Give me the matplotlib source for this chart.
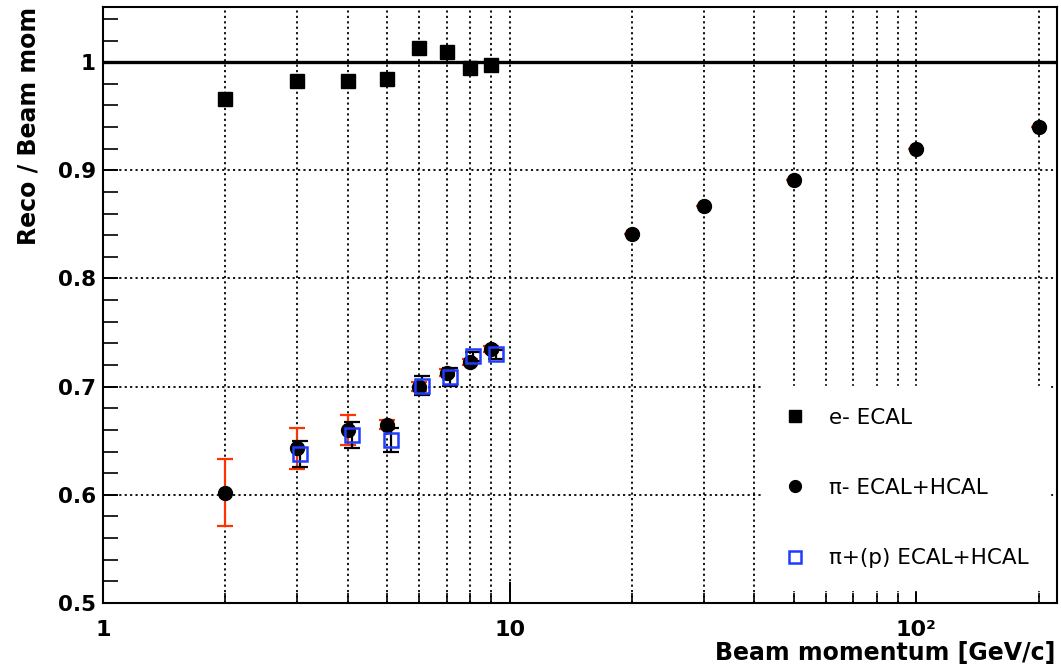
"""
Reco / beam momentum response for e- and pi in ECAL and ECAL+HCAL.
"""

from __future__ import annotations

import matplotlib

matplotlib.use("Agg")
import matplotlib.pyplot as plt
from matplotlib.ticker import FixedLocator, FixedFormatter, LogLocator, MultipleLocator, NullFormatter


# e- ECAL
E_MOM = [2, 3, 4, 5, 6, 7, 8, 9]
E_RESP = [0.966, 0.983, 0.983, 0.984, 1.0135, 1.0095, 0.995, 0.9975]

# pi- ECAL+HCAL
PIM_MOM = [2, 3, 4, 5, 6, 7, 8, 9, 20, 30, 50, 100, 200]
PIM_RESP = [0.602, 0.643, 0.660, 0.665, 0.700, 0.713, 0.723, 0.735, 0.841, 0.867, 0.891, 0.920, 0.940]
PIM_ERR = [0.031, 0.019, 0.014, 0.004, 0.004, 0.003, 0.003, 0.003, 0.0, 0.0, 0.0, 0.0, 0.0]

# pi+(p) ECAL+HCAL
PIP_MOM = [3.06, 4.09, 5.1, 6.1, 7.15, 8.15, 9.25]
PIP_RESP = [0.638, 0.655, 0.651, 0.701, 0.709, 0.728, 0.730]
PIP_ERR = [0.012, 0.012, 0.011, 0.009, 0.008, 0.004, 0.004]

X_TICKS = [1, 10, 100]
X_TICK_LABELS = ["1", "10", "10\u00b2"]

RED = "#ff3300"
BLUE = "#1f3cff"


def main() -> None:
    fig = plt.figure(figsize=(10.61, 6.67), dpi=100)
    ax = fig.add_axes([103 / 1061, 64 / 667, 954 / 1061, 596 / 667])

    ax.set_xscale("log")
    ax.set_xlim(1, 222)
    ax.set_ylim(0.5, 1.051)

    grid_style = dict(color="black", linestyle=(0, (1.2, 1.8)), linewidth=1.3)
    ax.grid(True, axis="x", which="both", **grid_style)
    ax.grid(True, axis="y", which="major", **grid_style)
    ax.set_axisbelow(True)

    ax.axhline(1.0, color="black", linewidth=2.4, zorder=2)

    ax.errorbar(PIM_MOM, PIM_RESP, yerr=PIM_ERR, fmt="none", ecolor=RED,
                elinewidth=1.6, capsize=5.5, capthick=1.6, zorder=3)
    ax.errorbar(PIP_MOM, PIP_RESP, yerr=PIP_ERR, fmt="none", ecolor="black",
                elinewidth=1.6, capsize=5.5, capthick=1.6, zorder=3)

    ax.plot(E_MOM, E_RESP, linestyle="none", marker="s", markersize=10,
            color="black", label="e- ECAL", zorder=4)
    ax.plot(PIM_MOM, PIM_RESP, linestyle="none", marker="o", markersize=10,
            color="black", label="\u03c0- ECAL+HCAL", zorder=4)
    ax.plot(PIP_MOM, PIP_RESP, linestyle="none", marker="s", markersize=9.5,
            markerfacecolor="none", markeredgecolor=BLUE, markeredgewidth=1.8,
            label="\u03c0+(p) ECAL+HCAL", zorder=5)

    ax.xaxis.set_major_locator(FixedLocator(X_TICKS))
    ax.xaxis.set_major_formatter(FixedFormatter(X_TICK_LABELS))
    ax.xaxis.set_minor_locator(LogLocator(base=10, subs=range(2, 10)))
    ax.xaxis.set_minor_formatter(NullFormatter())
    ax.yaxis.set_major_locator(MultipleLocator(0.1))
    ax.yaxis.set_minor_locator(MultipleLocator(0.02))
    ax.yaxis.set_major_formatter(plt.FuncFormatter(lambda v, _: f"{v:g}"))

    ax.tick_params(axis="x", which="major", direction="in", length=15, width=1.4, pad=12,
                   labelsize=16)
    ax.tick_params(axis="x", which="minor", direction="in", length=7, width=1.2)
    ax.tick_params(axis="y", which="major", direction="in", length=11, width=1.4, pad=5,
                   labelsize=15.5)
    ax.tick_params(axis="y", which="minor", direction="in", length=11, width=1.2)
    for label in ax.get_xticklabels() + ax.get_yticklabels():
        label.set_fontweight("bold")

    for spine in ax.spines.values():
        spine.set_linewidth(1.5)

    ax.set_xlabel("Beam momentum [GeV/c]", fontsize=17, fontweight="bold", loc="right")
    ax.xaxis.set_label_coords(0.998, -0.064)
    ax.set_ylabel("Reco / Beam mom", fontsize=17, fontweight="bold", loc="top")
    ax.yaxis.set_label_coords(-0.065, 1.0)

    leg = ax.legend(loc="lower right", bbox_to_anchor=(0.993, 0.022), fontsize=15.5,
                    frameon=True, fancybox=False, framealpha=1, facecolor="white",
                    edgecolor="white", labelspacing=2.34, handlelength=1.0,
                    handletextpad=1.1, borderpad=1.0, borderaxespad=0.0, markerscale=0.85)
    leg.set_zorder(10)

    fig.savefig("out.png", dpi=100)
    plt.close(fig)


if __name__ == "__main__":
    main()
